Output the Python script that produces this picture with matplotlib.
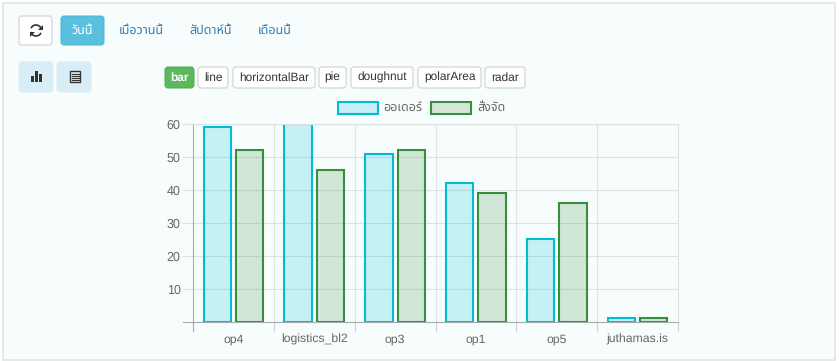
import matplotlib
matplotlib.use("Agg")
import matplotlib.pyplot as plt
from matplotlib.patches import FancyBboxPatch, Rectangle, Arc, Polygon

W, H = 839, 361

categories = ["op4", "logistics_bl2", "op3", "op1", "op5", "juthamas.is"]
orders = [59, 60, 51, 42, 25, 1]
shipped = [52, 46, 52, 39, 36, 1]
y_ticks = [10, 20, 30, 40, 50, 60]
range_labels = ["เมื่อวานนี้", "สัปดาห์นี้", "เดือนนี้"]
type_labels = ["line", "horizontalBar", "pie", "doughnut", "polarArea", "radar"]

plt.rcParams["font.family"] = ["Liberation Sans", "Noto Sans Thai", "DejaVu Sans"]
plt.rcParams["text.hinting"] = "no_hinting"

BG = "#f7fdfd"
TEXT = "#666666"


def button(ax, x, y, w, h, face, edge, r=3):
    ax.add_patch(FancyBboxPatch((x + r, y + r), w - 2 * r, h - 2 * r,
                                boxstyle="round,pad=%d,rounding_size=%d" % (r, r),
                                fc=face, ec=edge, lw=0.72))


fig = plt.figure(figsize=(W / 100, H / 100), dpi=100, facecolor="white")

# page furniture in pixel coordinates
ui = fig.add_axes([0, 0, 1, 1])
ui.set_xlim(0, W)
ui.set_ylim(H, 0)
ui.axis("off")
ui.add_patch(Rectangle((3, 3), 832, 357, fc=BG, ec="#e2e6e6", lw=1.2))

button(ui, 19, 16, 33, 29, "white", "#cccccc")
ui.add_patch(Arc((36, 30.5), 11, 11, theta1=25, theta2=165, ec="#333333", lw=1.2))
ui.add_patch(Arc((36, 30.5), 11, 11, theta1=205, theta2=345, ec="#333333", lw=1.2))
ui.add_patch(Polygon([[42.5, 24.5], [42.5, 29.5], [37.5, 29.5]], fc="#333333", lw=0))
ui.add_patch(Polygon([[29.5, 36.5], [29.5, 31.5], [34.5, 31.5]], fc="#333333", lw=0))
button(ui, 61, 16, 43, 29, "#5bc0de", "#46b8da")
ui.text(82.5, 31, "วันนี้", color="white", fontsize=9, weight="bold", ha="center", va="center")
for label, x in zip(range_labels, [141, 211, 275]):
    ui.text(x, 31, label, color="#337ab7", fontsize=9, ha="center", va="center")

button(ui, 19, 62, 34, 30, "#d9edf7", "#d9edf7")
button(ui, 57, 62, 34, 30, "#d9edf7", "#d9edf7")
for x, h in [(32, 6), (36, 11), (40, 8)]:
    ui.add_patch(Rectangle((x - 1, 82 - h), 3, h, fc="#333333", lw=0))
ui.add_patch(Rectangle((70, 71), 10, 11, fc="none", ec="#333333", lw=1))
for y in [73.5, 75.5, 77.5, 79.5]:
    ui.plot([71.5, 78.5], [y, y], color="#333333", lw=0.8)

button(ui, 165, 67, 29, 21, "#5cb85c", "#4cae4c")
ui.text(179.5, 77.5, "bar", color="white", fontsize=8.6, weight="bold", ha="center", va="center")
for label, x, w in zip(type_labels, [198, 233, 319, 351, 418, 485], [30, 82, 27, 62, 63, 40]):
    button(ui, x, 67, w, 21, "white", "#cccccc")
    ui.text(x + w / 2, 77.5, label, color="#333333", fontsize=8.6, ha="center", va="center")

# legend
ui.add_patch(Rectangle((337.5, 102), 40, 12, fc="#c8eff5", ec="#00bcd4", lw=1.5))
ui.text(383, 108, "ออเดอร์", color=TEXT, fontsize=9, va="center")
ui.add_patch(Rectangle((431, 102), 40, 12, fc="#d3e6d8", ec="#388e3c", lw=1.5))
ui.text(477, 108, "สั่งจัด", color=TEXT, fontsize=9, va="center")

# chart
ax = fig.add_axes([193 / W, 1 - 321.7 / H, 485 / W, 197.7 / H])
ax.patch.set_alpha(0)
xs = list(range(len(categories)))
bar_w = 0.34
ax.bar([x - 0.2 for x in xs], orders, bar_w, color=(0, 188 / 255, 212 / 255, 0.2),
       edgecolor="#00bcd4", linewidth=1.5, zorder=2)
ax.bar([x + 0.2 for x in xs], shipped, bar_w, color=(56 / 255, 142 / 255, 60 / 255, 0.2),
       edgecolor="#388e3c", linewidth=1.5, zorder=2)
ax.set_xlim(-0.5, 5.5)
ax.set_ylim(0, 60)
ax.set_yticks(y_ticks)
ax.set_yticklabels(y_ticks, fontsize=9, color=TEXT)
ax.set_xticks(xs)
ax.set_xticklabels(categories, fontsize=8.8, color=TEXT)
ax.tick_params(axis="both", length=0, pad=9)
ax.grid(axis="y", color="#dde3e3", lw=0.8, zorder=0)
for x in xs[:-1]:
    ax.axvline(x + 0.5, color="#dde3e3", lw=0.8, zorder=0)
for s in ["top", "right"]:
    ax.spines[s].set_color("#dde3e3")
    ax.spines[s].set_linewidth(0.8)
for s in ["left", "bottom"]:
    ax.spines[s].set_color("#a8acac")
    ax.spines[s].set_linewidth(0.8)

# tick stubs that run past the plot area
for x in [193 + i * 485 / 6 for i in range(7)]:
    ui.plot([x, x], [321.7, 331], color="#cfd4d4", lw=0.8)
ui.plot([193, 193], [321.7, 331], color="#a8acac", lw=0.8)
ui.plot([183, 193], [321.7, 321.7], color="#a8acac", lw=0.8)
for v in y_ticks:
    y = 321.7 - v * 197.7 / 60
    ui.plot([183, 193], [y, y], color="#dde3e3", lw=0.8)

fig.savefig("out.png", dpi=100, facecolor="white")
